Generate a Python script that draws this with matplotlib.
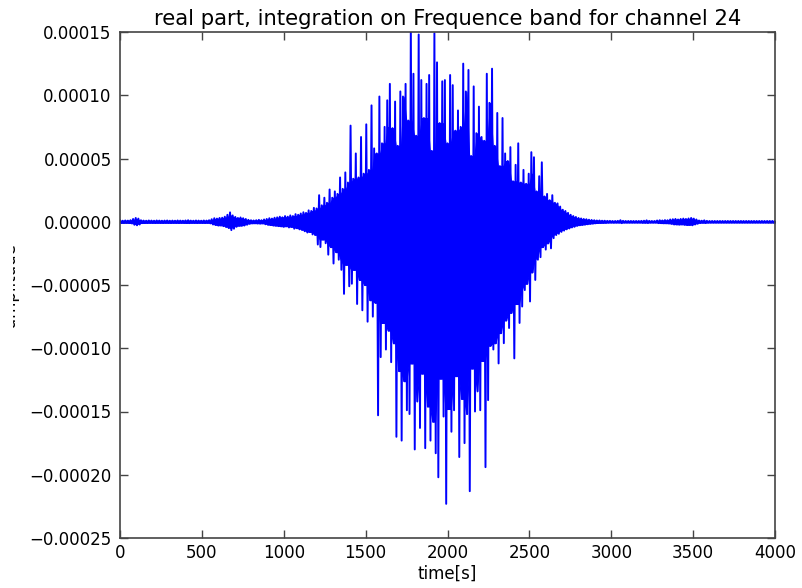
import numpy as np
import matplotlib
matplotlib.use("Agg")
import matplotlib.pyplot as plt
from matplotlib.ticker import MultipleLocator, FuncFormatter
from matplotlib.transforms import Bbox, TransformedBbox

plt.rcParams["path.simplify"] = False

# ---------------------------------------------------------------------------
# Signal extremes (units of 1e-5), one up/down pair every STEP seconds.
# ---------------------------------------------------------------------------
SCALE = 1e-5
STEP = 16.0

# quiet lead-in, 0 .. 944 s
lead_up = [0.10, 0.08, 0.10, 0.09, 0.12, 0.22, 0.30, 0.25, 0.12, 0.09,
           0.08, 0.10, 0.09, 0.08, 0.10, 0.09, 0.08, 0.09, 0.10, 0.08,
           0.09, 0.08, 0.10, 0.09, 0.08, 0.10, 0.12, 0.09, 0.08, 0.10,
           0.09, 0.08, 0.10, 0.09, 0.12, 0.20, 0.28, 0.25, 0.30, 0.32,
           0.40, 0.55, 0.74, 0.50, 0.38, 0.30, 0.34, 0.28, 0.22, 0.15,
           0.12, 0.10, 0.12, 0.15, 0.12, 0.18, 0.22, 0.28, 0.25, 0.32]
lead_lo = [-0.10, -0.09, -0.08, -0.10, -0.13, -0.24, -0.28, -0.22, -0.11, -0.09,
           -0.10, -0.08, -0.09, -0.10, -0.08, -0.09, -0.10, -0.08, -0.09, -0.10,
           -0.08, -0.09, -0.10, -0.08, -0.09, -0.10, -0.11, -0.08, -0.09, -0.10,
           -0.08, -0.09, -0.10, -0.08, -0.13, -0.22, -0.26, -0.30, -0.28, -0.35,
           -0.42, -0.50, -0.66, -0.55, -0.40, -0.32, -0.30, -0.30, -0.24, -0.16,
           -0.12, -0.11, -0.13, -0.14, -0.12, -0.20, -0.24, -0.26, -0.30, -0.30]

# main event, 960 .. 2880 s
event_up = [0.35, 0.40, 0.35, 0.45, 0.40, 0.50, 0.45, 0.60, 0.55, 0.65,
            0.75, 0.70, 0.90, 0.85, 1.10, 1.05, 2.10, 1.30, 1.90, 1.50,
            2.55, 1.90, 2.40, 2.20, 3.50, 2.60, 3.90, 3.10, 7.60, 3.40,
            5.40, 3.50, 6.70, 3.80, 7.70, 4.10, 9.20, 5.80, 5.40, 9.90,
            6.20, 7.50, 9.60, 10.9, 7.40, 9.50, 6.00, 10.3, 9.90, 10.9,
            8.00, 15.5, 11.7, 6.80, 14.8, 11.2, 8.20, 10.9, 11.6, 5.60,
            14.9, 12.6, 7.80, 11.1, 11.2, 6.20, 11.6, 10.8, 7.20, 8.80,
            7.50, 12.5, 10.3, 12.0, 5.20, 10.7, 7.00, 9.10, 6.70, 6.40,
            11.7, 9.40, 12.1, 6.00, 8.60, 4.40, 8.20, 5.40, 4.80, 5.90,
            3.20, 4.50, 6.20, 3.10, 4.10, 3.00, 3.80, 5.50, 5.10, 2.40,
            3.60, 4.70, 2.00, 2.20, 1.70, 2.10, 1.50, 1.45, 1.20, 0.95,
            0.85, 0.70, 0.55, 0.45, 0.38, 0.30, 0.26, 0.22, 0.20, 0.16,
            0.14]
event_lo = [-0.35, -0.35, -0.40, -0.35, -0.45, -0.40, -0.55, -0.50, -0.60, -0.65,
            -0.75, -0.85, -0.80, -1.00, -1.05, -1.80, -2.00, -1.40, -1.70, -2.60,
            -2.00, -3.30, -2.40, -3.00, -3.80, -5.70, -3.40, -5.10, -4.90, -3.80,
            -6.50, -4.60, -7.00, -5.00, -7.90, -6.20, -7.50, -6.40, -15.3, -10.7,
            -8.00, -10.1, -8.60, -11.1, -9.60, -17.0, -11.8, -17.3, -12.6, -14.9,
            -15.2, -11.2, -18.0, -14.2, -16.3, -12.0, -17.9, -14.6, -17.3, -15.8,
            -18.3, -20.2, -12.4, -15.4, -22.3, -14.8, -16.6, -14.9, -12.2, -18.6,
            -14.0, -17.5, -15.2, -21.3, -11.6, -15.0, -13.4, -14.9, -11.0, -19.4,
            -14.1, -9.80, -10.1, -9.60, -11.2, -8.80, -9.60, -7.80, -8.40, -7.20,
            -10.8, -6.50, -8.00, -6.70, -5.40, -4.90, -6.30, -4.00, -4.60, -3.00,
            -2.80, -2.00, -2.20, -1.70, -2.10, -1.30, -1.05, -0.95, -0.80, -0.70,
            -0.60, -0.53, -0.45, -0.40, -0.32, -0.28, -0.25, -0.22, -0.20, -0.16,
            -0.14]

# quiet tail, 2896 .. 4000 s
tail_up = [0.12, 0.10, 0.10, 0.08, 0.08, 0.07, 0.07, 0.06, 0.06, 0.07,
           0.12, 0.07, 0.06, 0.06, 0.06, 0.06, 0.06, 0.06, 0.07, 0.08,
           0.11, 0.07, 0.06, 0.06, 0.10, 0.12, 0.10, 0.13, 0.12, 0.18,
           0.20, 0.22, 0.18, 0.22, 0.25, 0.22, 0.26, 0.30, 0.25, 0.18,
           0.10, 0.08, 0.11, 0.07, 0.06, 0.06, 0.06, 0.06, 0.06, 0.06,
           0.06, 0.06, 0.06, 0.06, 0.06, 0.06, 0.06, 0.06, 0.06, 0.06,
           0.06, 0.06, 0.06, 0.06, 0.06, 0.06, 0.06, 0.06, 0.06, 0.06]
tail_lo = [-0.12, -0.10, -0.09, -0.08, -0.08, -0.07, -0.06, -0.07, -0.06, -0.06,
           -0.11, -0.06, -0.06, -0.06, -0.06, -0.06, -0.06, -0.06, -0.08, -0.07,
           -0.10, -0.06, -0.06, -0.06, -0.11, -0.10, -0.12, -0.11, -0.13, -0.16,
           -0.22, -0.20, -0.22, -0.20, -0.24, -0.25, -0.24, -0.28, -0.22, -0.16,
           -0.10, -0.07, -0.10, -0.07, -0.06, -0.06, -0.06, -0.06, -0.06, -0.06,
           -0.06, -0.06, -0.06, -0.06, -0.06, -0.06, -0.06, -0.06, -0.06, -0.06,
           -0.06, -0.06, -0.06, -0.06, -0.06, -0.06, -0.06, -0.06, -0.06, -0.06]

TITLE = "real part, integration on Frequence band for channel 24"
XLABEL = "time[s]"
YLABEL = "amplitude"

# ---------------------------------------------------------------------------
up = np.array(lead_up + event_up + tail_up) * SCALE
lo = np.array(lead_lo + event_lo + tail_lo) * SCALE
t = np.arange(len(up)) * STEP

# trace alternates between each upper and lower extreme
x = np.empty(2 * len(t))
y = np.empty(2 * len(t))
x[0::2] = t
x[1::2] = t + STEP / 2
y[0::2] = up
y[1::2] = lo

# densely oscillating body: everything below the neighbouring extremes
pad_up = np.concatenate([up[:1], up, up[-1:]])
pad_lo = np.concatenate([lo[:1], lo, lo[-1:]])
body_hi = np.minimum(np.minimum(pad_up[:-2], pad_up[1:-1]), pad_up[2:])
body_lo = np.maximum(np.maximum(pad_lo[:-2], pad_lo[1:-1]), pad_lo[2:])

fig = plt.figure(figsize=(8.03, 5.88), dpi=100)
ax = fig.add_axes([120 / 803, 1 - 538 / 588, 655 / 803, 506 / 588])

blue = "#0000ff"
ax.fill_between(t + STEP / 4, body_lo, body_hi, color=blue, linewidth=0.8)
ax.plot(x, y, color=blue, linewidth=1.4, solid_joinstyle="round")

ax.set_xlim(0, 4000)
ax.set_ylim(-0.00025, 0.00015)
ax.xaxis.set_major_locator(MultipleLocator(500))
ax.yaxis.set_major_locator(MultipleLocator(0.00005))
ax.yaxis.set_major_formatter(
    FuncFormatter(lambda v, _: f"{v:.5f}".replace("-", "\u2212")
                  if abs(v) > 1e-12 else "0.00000"))

for s in ax.spines.values():
    s.set_color("#444444")
    s.set_linewidth(1.2)
ax.tick_params(direction="in", length=6, width=1, color="#444444",
               top=True, right=True, labelsize=12)
ax.tick_params(axis="y", pad=6)
ax.tick_params(axis="x", pad=4)

ax.set_title(TITLE, fontsize=15.2, pad=5)
ax.set_xlabel(XLABEL, fontsize=12, labelpad=2)
lab = ax.set_ylabel(YLABEL, fontsize=12)
ax.yaxis.set_label_coords(-0.154, 0.5)
lab.set_clip_box(TransformedBbox(Bbox([[13 / 803, 0], [1, 1]]), fig.transFigure))
lab.set_clip_on(True)

fig.savefig("out.png", dpi=100, facecolor="white")
